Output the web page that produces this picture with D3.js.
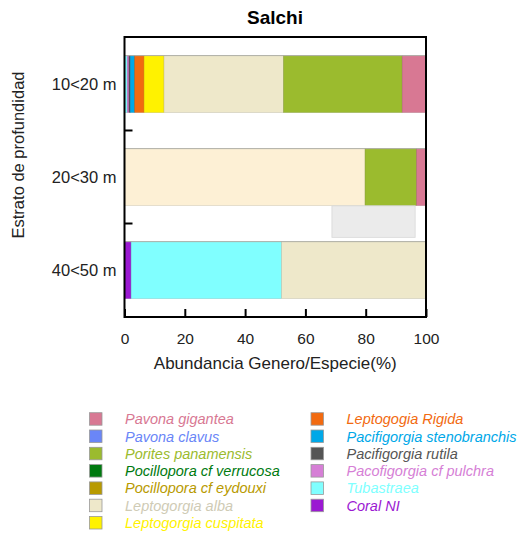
<!DOCTYPE html>
<html>
<head>
<meta charset="utf-8">
<script src="https://cdn.jsdelivr.net/npm/d3@7"></script>
<style>
	body { margin: 0; background: #fff; }
	text { font-family: "Liberation Sans", Arial, sans-serif; }
</style>
</head>
<body>
<div id="chart"></div>
<script>
/* global d3 */

const strata = ['10<20 m', '20<30 m', '40<50 m'];

// stacking order from left to right, values in % per stratum
const species = [
	'Coral NI', 'Tubastraea', 'Pacofigorgia cf pulchra', 'Pacifigorgia rutila',
	'Pacifigorgia stenobranchis', 'Leptogogia Rigida', 'Leptogorgia cuspitata',
	'Leptogorgia alba', 'Otro', 'Pocillopora cf eydouxi', 'Pocillopora cf verrucosa',
	'Porites panamensis', 'Pavona clavus', 'Pavona gigantea',
];
const values10 = [0, 0.9, 0.6, 0.4, 1.5, 3.1, 6.6, 39.7, 0, 0, 0, 39.3, 0, 7.9];
const values20 = [0, 0, 0, 0, 0, 0, 0, 0, 79.8, 0, 0, 17.1, 0, 3.1];
const values40 = [2.2, 49.9, 0, 0, 0, 0, 0, 47.9, 0, 0, 0, 0, 0, 0];

const colors = {
	'Pavona gigantea': '#d87893',
	'Pavona clavus': '#6a86f7',
	'Porites panamensis': '#9bbb2e',
	'Pocillopora cf verrucosa': '#007a10',
	'Pocillopora cf eydouxi': '#b89a00',
	'Leptogorgia alba': '#eee8ca',
	'Leptogorgia cuspitata': '#fff200',
	'Leptogogia Rigida': '#f26a10',
	'Pacifigorgia stenobranchis': '#00a8e8',
	'Pacifigorgia rutila': '#555555',
	'Pacofigorgia cf pulchra': '#d67fd6',
	'Tubastraea': '#80ffff',
	'Coral NI': '#9b19d2',
	'Otro': '#fdf0d5',
};

const legendLeft = ['Pavona gigantea', 'Pavona clavus', 'Porites panamensis',
	'Pocillopora cf verrucosa', 'Pocillopora cf eydouxi', 'Leptogorgia alba', 'Leptogorgia cuspitata'];
const legendRight = ['Leptogogia Rigida', 'Pacifigorgia stenobranchis', 'Pacifigorgia rutila',
	'Pacofigorgia cf pulchra', 'Tubastraea', 'Coral NI'];

const xTicks = [0, 20, 40, 60, 80, 100];

const width = 518;
const height = 533;
const margins = {left: 124.5, right: 92, top: 37, bottom: 216};

const svg = d3.select('#chart').append('svg')
	.attr('width', width)
	.attr('height', height);

const x = d3.scaleLinear()
	.domain([0, 100])
	.range([margins.left, width - margins.right]);

const y = d3.scaleBand()
	.domain(strata)
	.range([margins.top, height - margins.bottom])
	.paddingInner(0.39)
	.paddingOuter(0.2);

const rows = strata.map((s, i) => {
	const vals = [values10, values20, values40][i];
	const row = {stratum: s};
	species.forEach((sp, j) => { row[sp] = vals[j]; });
	return row;
});

const stacked = d3.stack().keys(species)(rows);

const layers = svg.append('g')
	.selectAll('g.layer')
	.data(stacked)
	.enter().append('g')
	.attr('class', 'layer')
	.attr('fill', d => colors[d.key]);

layers.selectAll('rect')
	.data(d => d.filter(v => v[1] - v[0] > 0))
	.enter().append('rect')
	.attr('x', d => x(d[0]))
	.attr('y', d => y(d.data.stratum))
	.attr('width', d => x(d[1]) - x(d[0]))
	.attr('height', y.bandwidth())
	.attr('stroke', function () {
		return d3.color(d3.select(this.parentNode).attr('fill')).darker(0.6);
	})
	.attr('stroke-width', 0.5);

// light outline along the top edge of the bars
svg.append('g')
	.selectAll('line')
	.data(strata)
	.enter().append('line')
	.attr('x1', x(0))
	.attr('x2', x(100))
	.attr('y1', d => y(d))
	.attr('y2', d => y(d))
	.attr('stroke', '#b0b0a8')
	.attr('stroke-width', 1);

// stray grey box left in the original figure
svg.append('rect')
	.attr('x', x(68.8))
	.attr('y', y('20<30 m') + y.bandwidth() + 0.5)
	.attr('width', x(96.4) - x(68.8))
	.attr('height', 31.5)
	.attr('fill', '#ebebeb')
	.attr('stroke', '#d8d8d8')
	.attr('stroke-width', 0.8);

// frame
svg.append('rect')
	.attr('x', x(0))
	.attr('y', margins.top)
	.attr('width', x(100) - x(0))
	.attr('height', height - margins.bottom - margins.top)
	.attr('fill', 'none')
	.attr('stroke', '#000')
	.attr('stroke-width', 2);

const bottom = height - margins.bottom;

const xAxis = d3.axisBottom(x)
	.tickValues(xTicks)
	.tickSize(-8)
	.tickPadding(16)
	.tickFormat(d => d);

svg.append('g')
	.attr('transform', `translate(0,${bottom})`)
	.call(xAxis)
	.call(g => g.select('.domain').remove())
	.call(g => g.selectAll('line').attr('stroke-width', 2))
	.call(g => g.selectAll('text')
		.attr('font-size', 15.5)
		.attr('fill', '#222')
		.attr('font-family', '"Liberation Sans", Arial, sans-serif'));

// y ticks between strata
const step = y.step();
svg.append('g')
	.selectAll('line')
	.data(strata.slice(1))
	.enter().append('line')
	.attr('x1', x(0))
	.attr('x2', x(0) + 8)
	.attr('y1', d => y(d) - (step - y.bandwidth()) / 2)
	.attr('y2', d => y(d) - (step - y.bandwidth()) / 2)
	.attr('stroke', '#000')
	.attr('stroke-width', 2);

svg.append('g')
	.selectAll('text')
	.data(strata)
	.enter().append('text')
	.attr('x', x(0) - 8)
	.attr('y', d => y(d) + y.bandwidth() / 2)
	.attr('dy', '0.35em')
	.attr('text-anchor', 'end')
	.attr('font-size', 16.5)
	.attr('fill', '#222')
	.text(d => d);

svg.append('text')
	.attr('x', 275)
	.attr('y', 24)
	.attr('text-anchor', 'middle')
	.attr('font-size', 19)
	.attr('font-weight', 'bold')
	.text('Salchi');

svg.append('text')
	.attr('x', x(50))
	.attr('y', 369)
	.attr('text-anchor', 'middle')
	.attr('font-size', 17)
	.attr('fill', '#222')
	.text('Abundancia Genero/Especie(%)');

svg.append('text')
	.attr('transform', 'translate(24,155) rotate(-90)')
	.attr('text-anchor', 'middle')
	.attr('font-size', 16.5)
	.attr('fill', '#222')
	.text('Estrato de profundidad');

// legend
function drawLegend(names, swatchX, textX) {
	const item = svg.append('g')
		.selectAll('g')
		.data(names)
		.enter().append('g')
		.attr('transform', (d, i) => `translate(0,${412.7 + i * 17.3})`);

	item.append('rect')
		.attr('x', swatchX)
		.attr('y', 0)
		.attr('width', 12.5)
		.attr('height', 12.5)
		.attr('fill', d => colors[d])
		.attr('stroke', '#999')
		.attr('stroke-width', 0.8);

	item.append('text')
		.attr('x', textX)
		.attr('y', 11.5)
		.attr('font-size', 14.5)
		.attr('font-style', 'italic')
		.attr('fill', d => d === 'Leptogorgia alba' ? '#cfcbb5' : colors[d])
		.text(d => d);
}

drawLegend(legendLeft, 89.5, 125);
drawLegend(legendRight, 311, 346.5);
</script>
</body>
</html>
